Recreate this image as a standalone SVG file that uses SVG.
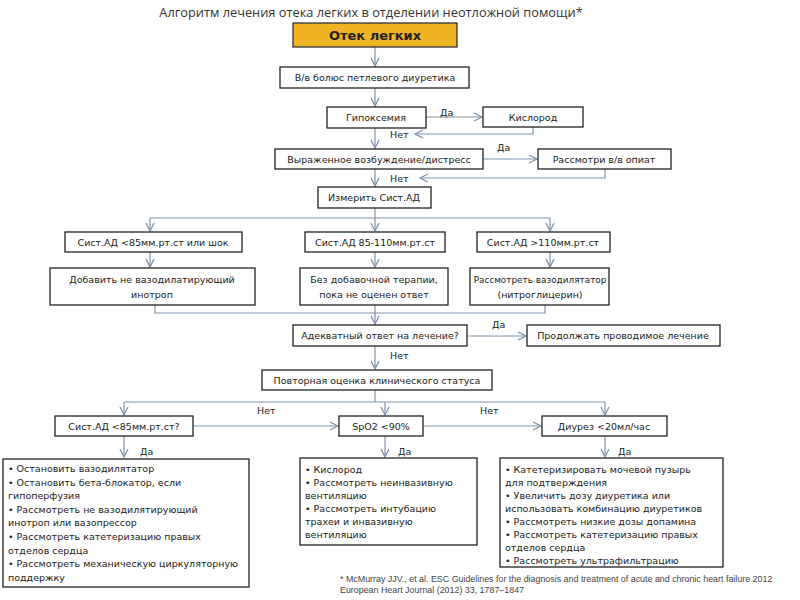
<svg xmlns="http://www.w3.org/2000/svg" width="800" height="600" viewBox="0 0 800 600">
<defs>
<marker id="ah" viewBox="0 0 10 10" refX="9" refY="5" markerWidth="10" markerHeight="10" markerUnits="userSpaceOnUse" orient="auto">
<path d="M1,1 L9,5 L1,9" fill="none" stroke="#7F93AE" stroke-width="1.3"/>
</marker>
<style>
.b{fill:#fff;stroke:#222;stroke-width:1.3}
.t{font-family:"DejaVu Sans","Noto Sans",sans-serif;font-size:9.5px;fill:#222;text-anchor:middle}
.l{font-family:"DejaVu Sans","Noto Sans",sans-serif;font-size:9.5px;fill:#222}
.c{fill:none;stroke:#7F93AE;stroke-width:1.2}
.a{marker-end:url(#ah)}
</style>
</defs>
<rect width="800" height="600" fill="#fff"/>
<text x="371" y="17" style="font-family:'Open Sans','DejaVu Sans',sans-serif;font-size:12.8px;fill:#333;text-anchor:middle">Алгоритм лечения отека легких в отделении неотложной помощи*</text>

<g id="connectors">
<path class="c a" d="M375,47 V66"/>
<path class="c a" d="M375,88 V106"/>
<path class="c a" d="M426,117 H482"/>
<path class="c a" d="M533,127 V134 H415"/>
<path class="c a" d="M375,128 V148"/>
<path class="c a" d="M483,159 H537"/>
<path class="c a" d="M605,169 V178 H420"/>
<path class="c a" d="M375,169 V186"/>
<path class="c" d="M375,208 V218 M150,218 H550"/>
<path class="c a" d="M150,218 V231"/>
<path class="c a" d="M375,218 V231"/>
<path class="c a" d="M550,218 V231"/>
<path class="c a" d="M150,252 V267"/>
<path class="c a" d="M375,252 V267"/>
<path class="c a" d="M550,252 V267"/>
<path class="c" d="M155,305 V313 H545 V305"/>
<path class="c a" d="M375,305 V324"/>
<path class="c a" d="M467,336 H526"/>
<path class="c a" d="M375,346 V369"/>
<path class="c" d="M375,390 V402 M124,402 H605"/>
<path class="c a" d="M124,402 V415"/>
<path class="c a" d="M385,402 V415"/>
<path class="c a" d="M605,402 V415"/>
<path class="c a" d="M193,426 H338"/>
<path class="c a" d="M423,426 H541"/>
<path class="c a" d="M124,436 V457"/>
<path class="c a" d="M385,436 V457"/>
<path class="c a" d="M605,436 V457"/>
<text class="l" x="440" y="116">Да</text>
<text class="l" x="390" y="138">Нет</text>
<text class="l" x="497" y="151">Да</text>
<text class="l" x="390" y="182">Нет</text>
<text class="l" x="492" y="328">Да</text>
<text class="l" x="390" y="359">Нет</text>
<text class="l" x="257" y="414">Нет</text>
<text class="l" x="480" y="414">Нет</text>
<text class="l" x="140" y="455">Да</text>
<text class="l" x="398" y="455">Да</text>
<text class="l" x="618" y="455">Да</text>
</g>

<g id="n-otek">
<rect x="293" y="23" width="164" height="24" fill="#F0B323" stroke="#333" stroke-width="1.3"/>
<text x="375" y="40" style="font-family:'DejaVu Sans',sans-serif;font-size:13px;font-weight:bold;fill:#222;text-anchor:middle">Отек легких</text>
</g>
<g id="n-bolus"><rect class="b" x="280" y="67" width="189" height="21"/><text class="t" x="375" y="81">В/в болюс петлевого диуретика</text></g>
<g id="n-hypox"><rect class="b" x="327" y="107" width="99" height="21"/><text class="t" x="376" y="121">Гипоксемия</text></g>
<g id="n-o2"><rect class="b" x="483" y="107" width="100" height="20"/><text class="t" x="533" y="121">Кислород</text></g>
<g id="n-distress"><rect class="b" x="275" y="149" width="208" height="20"/><text class="t" x="379" y="163">Выраженное возбуждение/дистресс</text></g>
<g id="n-opiat"><rect class="b" x="538" y="149" width="133" height="20"/><text class="t" x="604" y="163">Рассмотри в/в опиат</text></g>
<g id="n-measure"><rect class="b" x="318" y="187" width="113" height="21"/><text class="t" x="374" y="201">Измерить Сист.АД</text></g>
<g id="n-bp1"><rect class="b" x="65" y="232" width="177" height="20"/><text class="t" x="153" y="246">Сист.АД &lt;85мм.рт.ст или шок</text></g>
<g id="n-bp2"><rect class="b" x="305" y="232" width="140" height="20"/><text class="t" x="375" y="246">Сист.АД 85-110мм.рт.ст</text></g>
<g id="n-bp3"><rect class="b" x="477" y="232" width="133" height="20"/><text class="t" x="543" y="246">Сист.АД &gt;110мм.рт.ст</text></g>
<g id="n-inotrop"><rect class="b" x="50" y="268" width="205" height="37"/><text class="t" x="152" y="283">Добавить не вазодилатирующий</text><text class="t" x="152" y="298">инотроп</text></g>
<g id="n-none"><rect class="b" x="300" y="268" width="148" height="37"/><text class="t" x="374" y="283">Без добавочной терапии,</text><text class="t" x="374" y="298">пока не оценен ответ</text></g>
<g id="n-vaso"><rect class="b" x="470" y="268" width="139" height="37"/><text class="t" x="540" y="283" style="font-size:8.9px">Рассмотреть вазодилятатор</text><text class="t" x="540" y="298">(нитроглицерин)</text></g>
<g id="n-adequate"><rect class="b" x="293" y="325" width="174" height="21"/><text class="t" x="380" y="339">Адекватный ответ на лечение?</text></g>
<g id="n-continue"><rect class="b" x="527" y="325" width="193" height="21"/><text class="t" x="623" y="339">Продолжать проводимое лечение</text></g>
<g id="n-reassess"><rect class="b" x="262" y="370" width="230" height="20"/><text class="t" x="377" y="384">Повторная оценка клинического статуса</text></g>
<g id="n-sbp"><rect class="b" x="55" y="416" width="138" height="20"/><text class="t" x="124" y="430">Сист.АД &lt;85мм.рт.ст?</text></g>
<g id="n-spo2"><rect class="b" x="339" y="416" width="84" height="20"/><text class="t" x="381" y="430">SpO2 &lt;90%</text></g>
<g id="n-diur"><rect class="b" x="542" y="416" width="125" height="20"/><text class="t" x="604" y="430">Диурез &lt;20мл/час</text></g>
<g id="n-act1"><rect class="b" x="3" y="459" width="246" height="128"/>
<text class="l" x="8" y="472">• Остановить вазодилятатор</text>
<text class="l" x="8" y="486">• Остановить бета-блокатор, если</text>
<text class="l" x="8" y="499">гипоперфузия</text>
<text class="l" x="8" y="513">• Рассмотреть не вазодилятирующий</text>
<text class="l" x="8" y="526">инотроп или вазопрессор</text>
<text class="l" x="8" y="540">• Рассмотреть катетеризацию правых</text>
<text class="l" x="8" y="554">отделов сердца</text>
<text class="l" x="8" y="567">• Рассмотреть механическую циркуляторную</text>
<text class="l" x="8" y="581">поддержку</text>
</g>
<g id="n-act2"><rect class="b" x="300" y="458" width="177" height="87"/>
<text class="l" x="305" y="473">• Кислород</text>
<text class="l" x="305" y="486">• Рассмотреть неинвазивную</text>
<text class="l" x="305" y="499">вентиляцию</text>
<text class="l" x="305" y="512">• Рассмотреть интубацию</text>
<text class="l" x="305" y="525">трахеи и инвазивную</text>
<text class="l" x="305" y="538">вентиляцию</text>
</g>
<g id="n-act3"><rect class="b" x="500" y="458" width="223" height="109"/>
<text class="l" x="505" y="473">• Катетеризировать мочевой пузырь</text>
<text class="l" x="505" y="486">для подтверждения</text>
<text class="l" x="505" y="499">• Увеличить дозу диуретика или</text>
<text class="l" x="505" y="512">использовать комбинацию диуретиков</text>
<text class="l" x="505" y="525">• Рассмотреть низкие дозы допамина</text>
<text class="l" x="505" y="538">• Рассмотреть катетеризацию правых</text>
<text class="l" x="505" y="551">отделов сердца</text>
<text class="l" x="505" y="564">• Рассмотреть ультрафильтрацию</text>
</g>
<g id="footnote" style="font-family:'Liberation Sans',sans-serif;font-size:8.9px;fill:#444">
<text x="340" y="582">* McMurray JJV., et al. ESC Guidelines for the diagnosis and treatment of acute and chronic heart failure 2012</text>
<text x="340" y="593">European Heart Journal (2012) 33, 1787–1847</text>
</g>
</svg>
